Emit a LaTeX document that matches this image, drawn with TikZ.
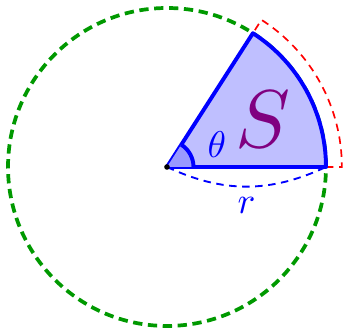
\documentclass[tikz,border=0pt]{standalone}
\usepackage{amsmath,amsfonts,amssymb}
\usepackage{xcolor}
\usepackage{tikz}

\begin{document}
\begin{tikzpicture}[
    circleline/.style={green!60!black, line width=2pt, dash pattern=on 5pt off 3pt},
    sectorline/.style={blue, line width=2.1pt, line join=round},
    outerline/.style={red, line width=0.9pt, dash pattern=on 4pt off 3pt},
    radiusline/.style={blue, line width=1pt, dash pattern=on 4pt off 3pt}]
                    \useasboundingbox (-3.151,-3.057) rectangle (3.340,3.151);
                    \def\rad{3}
                    \def\ang{57.2958}

                    % Points
                    \coordinate (O) at (0,0);
                    \coordinate (A) at (0:\rad);
                    \coordinate (B) at (\ang:\rad);
                    \coordinate (A1) at (0:1.1*\rad);

                    % Full circle
                    \draw[circleline] (O) circle (\rad);

                    % Outer arc
                    \draw[outerline] (A) -- (A1) arc (0:\ang:1.1*\rad) -- (B);

                    % Sector
                    \filldraw[sectorline, fill=blue!25] (O) -- (A) arc (0:\ang:\rad) -- cycle;

                    % Angle mark
                    \fill[blue!40] (O) -- (0:0.5) arc (0:\ang:0.5) -- cycle;
                    \draw[sectorline] (0:0.5) arc (0:\ang:0.5);

                    % Radius
                    \draw[radiusline] (O) to[bend right=25] node[below=-2pt, text=blue, scale=2] (r) {$r$} (A);
                    \fill (O) circle (1.5pt);

                    % Labels
                    \node[blue, scale=2] (theta) at (0.94,0.42) {$\theta$};
                    \node[violet, scale=4.4] (S) at (1.81,0.89) {$S$};
                \end{tikzpicture}
\end{document}
